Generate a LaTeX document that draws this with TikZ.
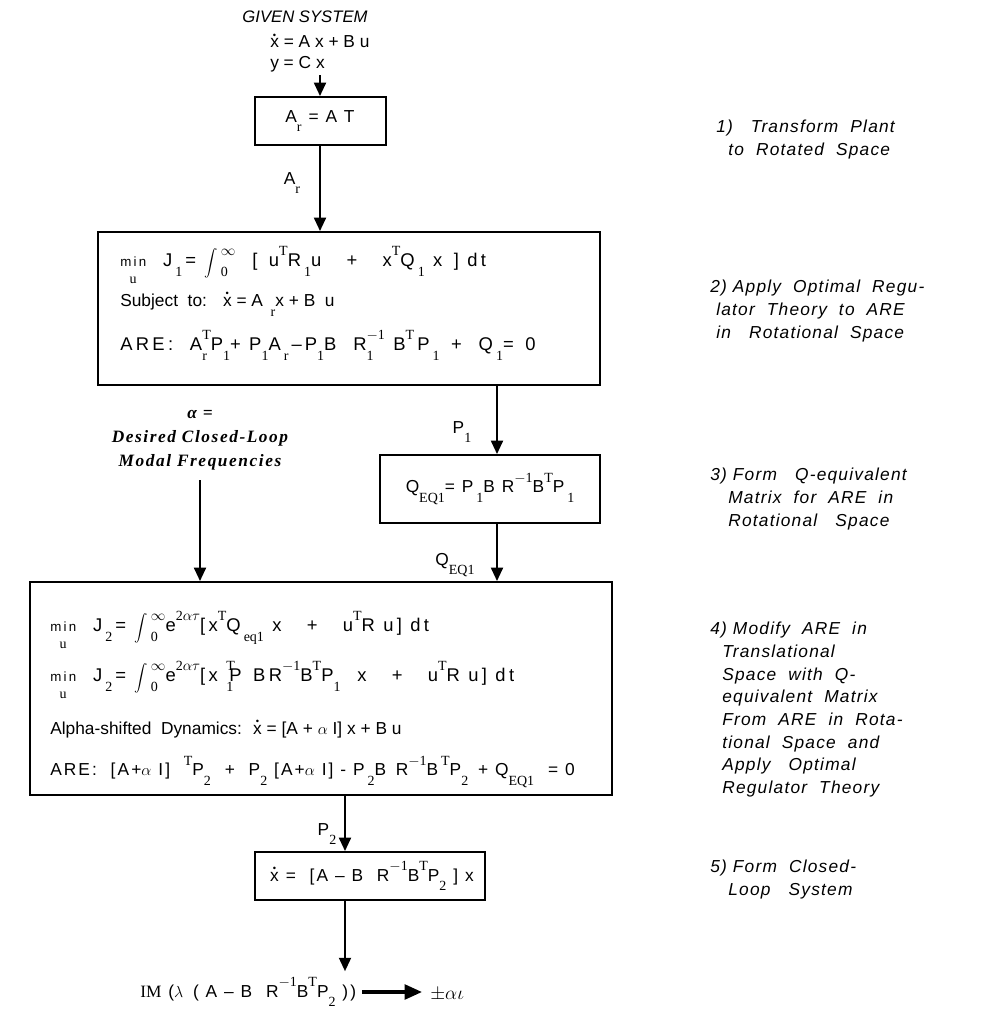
\documentclass[tikz,border=0pt]{standalone}
\usepackage{fontspec}
\setmainfont{Liberation Sans}
\newfontfamily\serif{Liberation Serif}
\newfontfamily\eqfont[LetterSpace=12]{Liberation Sans}
\newfontfamily\eqwide[LetterSpace=18]{Liberation Sans}
\newfontfamily\notefont[LetterSpace=7]{Liberation Sans}
\newfontfamily\altfont[LetterSpace=9]{Liberation Serif}
\usetikzlibrary{arrows.meta,calc}
\newcommand\scr{\serif\fontsize{10.5}{10.5}\selectfont}
\newcommand\up[1]{\raisebox{0.6em}{\scr #1}}
\newcommand\dn[1]{\raisebox{-0.55em}{\scr #1}}
\newcommand\ud[2]{\makebox[0pt][l]{\raisebox{0.6em}{\scr #1}}\makebox[0pt][l]{\raisebox{-0.55em}{\scr #2}}\hphantom{\scr #1}}
\newcommand\integ{\raisebox{-0.15em}{\fontsize{16}{16}\selectfont$\displaystyle\int$}\,\ud{$\infty$}{0}}
\newcommand\xd{\ooalign{x\cr\hidewidth\raisebox{0.55em}{\fontsize{7}{7}\selectfont\textbullet}\hidewidth\cr}}
\newcommand\minu{\ooalign{{\fontsize{10}{10}\selectfont m\,i\,n}\cr\hidewidth\raisebox{-0.95em}{\scr u}\hidewidth\cr}}
\begin{document}
\begin{tikzpicture}[x=0.75pt,y=-0.75pt,
  box/.style={draw,line width=1.5pt,inner sep=0pt},
  arr/.style={line width=1.4pt,-{Triangle[length=10pt,width=9pt]}},
  txt/.style={inner sep=0pt,anchor=west,font=\fontsize{13}{15}\selectfont},
  eq/.style={inner sep=0pt,anchor=west,font=\fontsize{13}{15}\selectfont\eqfont},
  eqw/.style={inner sep=0pt,anchor=west,font=\fontsize{13.8}{15}\selectfont\eqwide},
  lbl/.style={inner sep=0pt,font=\fontsize{13}{15}\selectfont\eqfont},
  note/.style={inner sep=0pt,anchor=north west,align=left,font=\fontsize{13}{17}\selectfont\notefont\itshape}]
\useasboundingbox (0,0) rectangle (997,1025);

% given system
\node[inner sep=0pt,font=\fontsize{12.5}{14}\selectfont\itshape] (gs) at (305,17) {GIVEN SYSTEM};
\node[txt] (gs1) at (270,42) {\xd\ = A x + B u};
\node[txt] (gs2) at (270,64) {y = C x};
\coordinate (ca) at (320,75);

% boxes
\node[box,minimum width=131*0.75pt,minimum height=48*0.75pt] (b1) at (320,121) {};
\node[lbl] (t1) at (320,121) {A\dn{r}\ = A T};

\node[box,minimum width=502*0.75pt,minimum height=153*0.75pt] (b2) at (349,308.5) {};
\node[eqw] (l21) at (120,265) {\minu\ \ J\,\dn{1}\,= \integ\ \ [ \,u\up{T}R\,\dn{1}u \ \ + \ \ x\up{T}Q\,\dn{1} x \,] dt};
\node[txt] (l22) at (120,305) {Subject \ to: \ \ \xd\ = A \,\dn{r}x + B \ u};
\node[eqw] (l23) at (120,345) {ARE: \ A\ud{T}{r}P\dn{1}+ P\dn{1}A\,\dn{r}\,–\,P\dn{1}B \ R\ud{$-$1}{1}\ B\up{T}\,P\,\dn{1} \,+ \ Q\,\dn{1}= \,0};

\node[box,minimum width=220*0.75pt,minimum height=68*0.75pt] (b3) at (490,489) {};
\node[lbl] (t3) at (490,489) {Q\dn{EQ1}= P\,\dn{1}B R\up{$-$1}B\up{T}P\,\dn{1}};

\node[box,minimum width=582*0.75pt,minimum height=213*0.75pt] (b4) at (321,688.5) {};
\node[eqw] (l41) at (50,630) {\minu\ \ J\,\dn{2}\,= \integ e\up{2$\alpha\tau$}[x\up{T}Q\,\dn{eq1} x \ \ + \ \ u\up{T}R u] dt};
\node[eqw] (l42) at (50,680) {\minu\ \ J\,\dn{2}\,= \integ e\up{2$\alpha\tau$}[x \ud{T}{1}\kern-4pt P\, BR\up{$-$1}B\up{T}P\dn{1}\ \ x \ \ + \ \ u\up{T}R u] dt};
\node[txt] (l43) at (50,730) {Alpha-shifted \ Dynamics: \ \xd\ = [A + $\alpha$ I] x + B u};
\node[eq] (l44) at (50,772) {ARE: \ [A+$\alpha$ I] \ \up{T}P\dn{2} \ + \ P\dn{2} [A+$\alpha$ I] - P\,\dn{2}B \,R\up{$-$1}B\,\up{T}P\dn{2} \,+ Q\dn{EQ1} \ = 0};

\node[box,minimum width=230*0.75pt,minimum height=48*0.75pt] (b5) at (370,876) {};
\node[lbl] (t5) at (372,876) {\xd\ = \ [A – B \ R\up{$-$1}B\up{T}P\dn{2} ] x};

% result
\node[lbl,anchor=west] (res) at (140,992) {{\serif IM} ($\lambda$ \,( A – B \ R\up{$-$1}B\up{T}P\dn{2} ))};
\node[lbl,anchor=west,font=\fontsize{14}{15}\selectfont] (pm) at (430,995) {$\pm\alpha\iota$};

% alpha input
\node[inner sep=0pt,align=center,font=\fontsize{13}{18}\selectfont\altfont\bfseries\itshape] (al) at (200,440) {α =\\Desired Closed-Loop\\Modal Frequencies};

% coordinates for vertical lines
\coordinate (cb) at (497,0);
\coordinate (cc) at (200,0);
\coordinate (cd) at (345,0);

% connectors
\draw[arr] (ca) -- (ca |- b1.north);
\draw[arr] (b1.south) -- (b1.south |- b2.north);
\draw[arr] (b2.south -| cb) -- (b3.north -| cb);
\draw[arr] (b3.south -| cb) -- (b4.north -| cb);
\draw[arr] (al.south -| cc) ++(0,10) -- (b4.north -| cc);
\draw[arr] (b4.south -| cd) -- (b5.north -| cd);
\draw[arr] (b5.south -| cd) -- ($(res.north -| cd)+(0,-6)$);
\draw[line width=2.5pt,-{Triangle[length=13pt,width=11pt]}] ($(res.east)+(6,0)$) -- ($(res.east -| pm.west)+(-8,0)$);

% connector labels
\node[lbl] (la) at (292,183) {A\dn{r}};
\node[lbl] (lp1) at (462,432) {P\dn{1}};
\node[lbl] (lq) at (455,565) {Q\dn{EQ1}};
\node[lbl] (lp2) at (327,834) {P\dn{2}};

% notes
\node[note] (n1) at (716,120) {1) \ \ Transform \ Plant\\\ \ to \ Rotated \ Space};
\node[note] (n2) at (710,280) {2) Apply \ Optimal \ Regu-\\\ lator \ Theory \ to \ ARE\\\ in \ \ Rotational \ Space};
\node[note] (n3) at (710,468) {3) Form \ \ Q-equivalent\\\ \ \ Matrix \ for \ ARE \ in\\\ \ \ Rotational \ \ Space};
\node[note] (n4) at (710,622) {4) Modify \ ARE \ in\\\ \ Translational\\\ \ Space \ with \ Q-\\\ \ equivalent \ Matrix\\\ \ From \ ARE \ in \ Rota-\\\ \ tional \ Space \ and\\\ \ Apply \ \ Optimal\\\ \ Regulator \ Theory};
\node[note] (n5) at (710,860) {5) Form \ Closed-\\\ \ \ Loop \ \ System};
\end{tikzpicture}
\end{document}
